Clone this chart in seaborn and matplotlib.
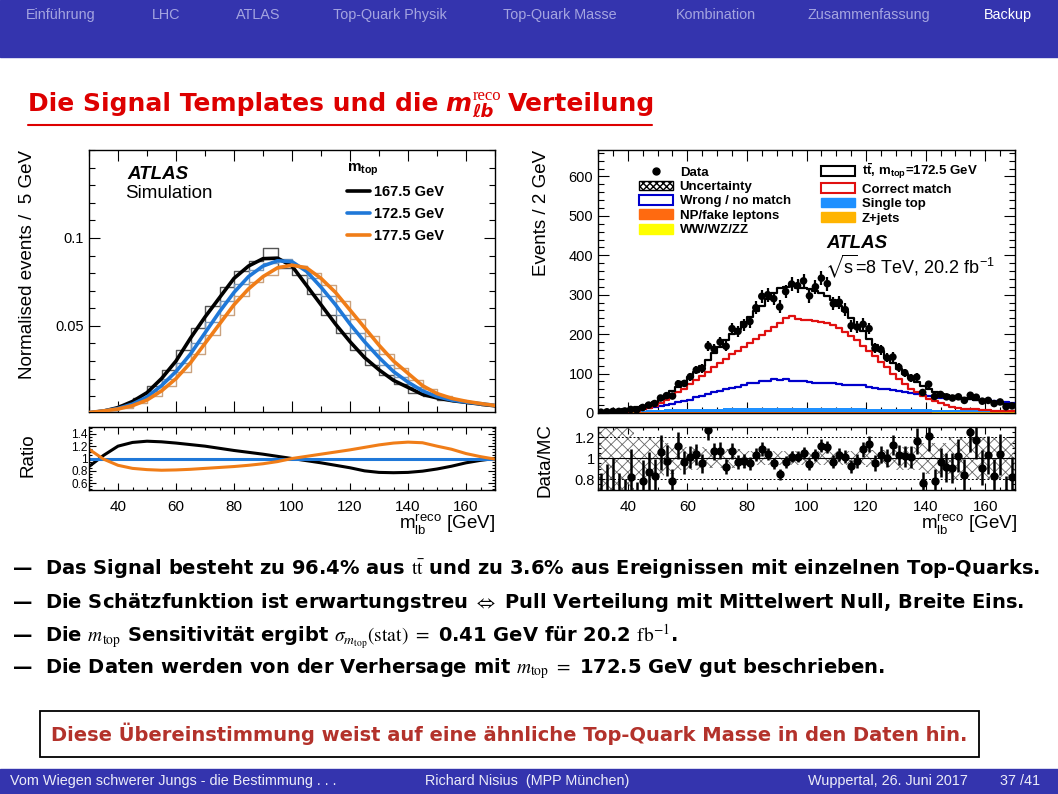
import numpy as np
import pandas as pd
import matplotlib
matplotlib.use("Agg")
import matplotlib.pyplot as plt
from matplotlib.lines import Line2D
from matplotlib.patches import Patch, Rectangle
from matplotlib.ticker import MultipleLocator, FixedLocator
import seaborn as sns

W, H = 1058, 794

# ---------------- left panel: signal templates (5 GeV) ----------------
m_grid = [30, 35, 40, 45, 50, 55, 60, 65, 70, 75, 80, 85, 90, 95, 100,
          105, 110, 115, 120, 125, 130, 135, 140, 145, 150, 155, 160, 165, 170]
curve_1675 = [0.0005, 0.0015, 0.0035, 0.007, 0.012, 0.020, 0.030, 0.043, 0.055, 0.066,
              0.077, 0.084, 0.0882, 0.0885, 0.084, 0.073, 0.062, 0.051, 0.041, 0.032,
              0.025, 0.019, 0.015, 0.011, 0.009, 0.0075, 0.0065, 0.0055, 0.0045]
curve_1725 = [0.0006, 0.0016, 0.003, 0.0055, 0.0095, 0.016, 0.024, 0.034, 0.046, 0.058,
              0.069, 0.078, 0.084, 0.087, 0.0865, 0.081, 0.072, 0.062, 0.051, 0.041,
              0.032, 0.024, 0.018, 0.013, 0.0098, 0.0078, 0.0066, 0.0057, 0.0048]
curve_1775 = [0.0007, 0.0016, 0.0027, 0.0046, 0.0078, 0.013, 0.020, 0.029, 0.040, 0.051,
              0.062, 0.071, 0.078, 0.083, 0.0845, 0.083, 0.077, 0.069, 0.059, 0.049,
              0.039, 0.030, 0.023, 0.016, 0.0115, 0.0088, 0.0071, 0.0058, 0.0047]
ratio_1675 = [0.87, 1.05, 1.20, 1.26, 1.28, 1.27, 1.25, 1.225, 1.20, 1.165, 1.13, 1.10,
              1.07, 1.035, 1.0, 0.965, 0.93, 0.89, 0.85, 0.80, 0.775, 0.77, 0.775, 0.795,
              0.83, 0.875, 0.93, 0.97, 1.0]
ratio_1775 = [1.15, 0.99, 0.89, 0.84, 0.82, 0.81, 0.815, 0.825, 0.84, 0.855, 0.87, 0.89,
              0.915, 0.95, 1.0, 1.035, 1.07, 1.105, 1.14, 1.18, 1.22, 1.25, 1.265, 1.255,
              1.2, 1.15, 1.08, 1.03, 0.99]
hist_1675 = [0.001, 0.002, 0.005, 0.009, 0.016, 0.025, 0.036, 0.049, 0.061, 0.072, 0.081,
             0.087, 0.094, 0.083, 0.079, 0.068, 0.056, 0.046, 0.036, 0.028, 0.022, 0.017,
             0.012, 0.010, 0.008, 0.007, 0.006, 0.005]
hist_1725 = [0.001, 0.002, 0.004, 0.008, 0.013, 0.020, 0.029, 0.040, 0.052, 0.064, 0.074,
             0.082, 0.086, 0.088, 0.084, 0.077, 0.067, 0.056, 0.046, 0.036, 0.028, 0.021,
             0.015, 0.011, 0.009, 0.007, 0.006, 0.005]
hist_1775 = [0.001, 0.002, 0.0035, 0.006, 0.010, 0.016, 0.024, 0.034, 0.045, 0.056, 0.067,
             0.075, 0.079, 0.084, 0.084, 0.080, 0.073, 0.064, 0.054, 0.044, 0.034, 0.026,
             0.019, 0.014, 0.010, 0.008, 0.0065, 0.005]
mass_labels = ["167.5 GeV", "172.5 GeV", "177.5 GeV"]

# ---------------- right panel: data vs prediction (2 GeV) ----------------
mc_total = [4, 5, 6, 7, 9, 11, 14, 18, 23, 29,
            36, 45, 55, 66, 78, 91, 105, 119, 134, 152,
            168, 184, 200, 214, 230, 244, 258, 272, 288, 305,
            318, 320, 322, 318, 318, 314, 310, 305, 296, 286,
            272, 258, 240, 224, 207, 188, 172, 156, 140, 126,
            112, 100, 88, 78, 68, 60, 54, 49, 45, 42,
            40, 38, 36, 34, 33, 31, 29, 27, 24, 22]
correct_match = [1, 1, 2, 2, 3, 4, 6, 9, 13, 19,
                 26, 34, 43, 52, 62, 73, 84, 95, 105, 116,
                 127, 138, 149, 158, 168, 178, 188, 198, 208, 218,
                 228, 242, 246, 238, 235, 235, 234, 232, 228, 222,
                 216, 206, 196, 184, 170, 158, 144, 130, 116, 100,
                 86, 74, 62, 52, 42, 36, 30, 25, 20, 16,
                 13, 11, 10, 9, 8, 7, 6, 5, 4, 4]
wrong_match = [2, 2, 3, 4, 5, 6, 8, 10, 12, 15,
               18, 21, 24, 27, 30, 34, 40, 44, 48, 52,
               57, 60, 63, 67, 72, 75, 77, 80, 82, 86,
               84, 86, 82, 80, 81, 78, 76, 77, 75, 76,
               73, 72, 70, 72, 70, 66, 64, 62, 60, 58,
               55, 53, 51, 48, 45, 42, 41, 39, 38, 38,
               37, 36, 35, 34, 34, 33, 31, 29, 27, 25]
single_top = [2, 2, 3, 3, 3, 4, 4, 4, 5, 5,
              5, 6, 6, 6, 7, 7, 7, 8, 8, 8,
              8, 9, 9, 9, 9, 9, 10, 10, 10, 10,
              10, 10, 10, 10, 10, 10, 10, 10, 9, 9,
              9, 9, 9, 9, 9, 8, 8, 8, 8, 8,
              8, 7, 7, 7, 7, 7, 7, 6, 6, 6,
              6, 6, 6, 6, 5, 5, 5, 5, 5, 5]
z_jets = [1, 1, 1, 1, 1, 1, 1, 1, 2, 2,
          2, 2, 2, 2, 2, 2, 2, 2, 2, 2,
          2, 2, 2, 2, 2, 2, 2, 2, 2, 2,
          2, 2, 2, 2, 2, 2, 2, 2, 2, 2,
          2, 2, 2, 2, 2, 2, 2, 2, 2, 2,
          2, 2, 2, 1, 1, 1, 1, 1, 1, 1,
          1, 1, 1, 1, 1, 1, 1, 1, 1, 1]
np_fake = [0.5, 0.5, 0.5, 0.5, 0.5, 0.5, 1, 1, 1, 1,
           1, 1, 1, 1, 1, 1, 1, 1, 1, 1,
           1, 1, 1, 1, 1, 1, 1, 1, 1, 1,
           1, 1, 1, 1, 1, 1, 1, 1, 1, 1,
           1, 1, 1, 1, 1, 1, 1, 1, 1, 1,
           1, 1, 1, 1, 1, 1, 0.5, 0.5, 0.5, 0.5,
           0.5, 0.5, 0.5, 0.5, 0.5, 0.5, 0.5, 0.5, 0.5, 0.5]
diboson = [0.3, 0.3, 0.3, 0.3, 0.3, 0.3, 0.3, 0.3, 0.3, 0.3,
           0.3, 0.3, 0.3, 0.3, 0.3, 0.3, 0.3, 0.3, 0.3, 0.3,
           0.3, 0.3, 0.3, 0.3, 0.3, 0.3, 0.3, 0.3, 0.3, 0.3,
           0.3, 0.3, 0.3, 0.3, 0.3, 0.3, 0.3, 0.3, 0.3, 0.3,
           0.3, 0.3, 0.3, 0.3, 0.3, 0.3, 0.3, 0.3, 0.3, 0.3,
           0.3, 0.3, 0.3, 0.3, 0.3, 0.3, 0.3, 0.3, 0.3, 0.3,
           0.3, 0.3, 0.3, 0.3, 0.3, 0.3, 0.3, 0.3, 0.3, 0.3]
data_counts = [2, 3, 4, 4, 5, 9, 8, 14, 20, 24,
               38, 44, 43, 74, 75, 92, 109, 113, 170, 162,
               180, 169, 214, 207, 224, 232, 267, 296, 300, 290,
               269, 308, 327, 323, 335, 297, 320, 342, 328, 277,
               281, 262, 221, 218, 225, 214, 164, 161, 140, 142,
               116, 102, 89, 91, 52, 73, 42, 47, 41, 38,
               41, 32, 45, 40, 30, 32, 24, 28, 16, 18]
unc_band = [0.35, 0.35, 0.35, 0.35, 0.35, 0.35, 0.20, 0.20, 0.20, 0.20,
            0.20, 0.15, 0.15, 0.15, 0.11, 0.11, 0.11, 0.11, 0.09, 0.09,
            0.09, 0.09, 0.09, 0.09, 0.09, 0.065, 0.065, 0.065, 0.065, 0.065,
            0.065, 0.065, 0.065, 0.065, 0.065, 0.065, 0.065, 0.065, 0.065, 0.065,
            0.065, 0.065, 0.065, 0.065, 0.065, 0.08, 0.08, 0.08, 0.08, 0.08,
            0.11, 0.11, 0.11, 0.11, 0.15, 0.15, 0.15, 0.15, 0.15, 0.20,
            0.20, 0.20, 0.20, 0.20, 0.20, 0.20, 0.20, 0.20, 0.20, 0.20]

nav_items = ["Einführung", "LHC", "ATLAS", "Top-Quark Physik", "Top-Quark Masse",
             "Kombination", "Zusammenfassung", "Backup"]
nav_x = [26, 152, 236, 333, 503, 676, 808, 984]
bullets = [
    r"—  Das Signal besteht zu 96.4% aus $\mathrm{t\bar{t}}$ und zu 3.6% aus Ereignissen mit einzelnen Top-Quarks.",
    r"—  Die Schätzfunktion ist erwartungstreu $\Leftrightarrow$ Pull Verteilung mit Mittelwert Null, Breite Eins.",
    r"—  Die $m_{\mathrm{top}}$ Sensitivität ergibt $\sigma_{m_{\mathrm{top}}}(\mathrm{stat})\ =$ 0.41 GeV für 20.2 $\mathrm{fb}^{-1}$.",
    r"—  Die Daten werden von der Verhersage mit $m_{\mathrm{top}}\ =$ 172.5 GeV gut beschrieben.",
]
bullet_y = [569, 603, 637, 669]

# ---------------- style ----------------
sns.set_theme(style="ticks")
plt.rcParams["font.family"] = ["Liberation Sans", "DejaVu Sans"]
plt.rcParams["mathtext.fontset"] = "stix"
plt.rcParams["axes.linewidth"] = 1.0
plt.rcParams["axes.edgecolor"] = "black"
plt.rcParams["text.color"] = "black"
plt.rcParams["axes.labelcolor"] = "black"
plt.rcParams["xtick.color"] = "black"
plt.rcParams["ytick.color"] = "black"

SLIDE_FONT = ["DejaVu Sans"]
BLACK, BLUE, ORANGE = "#000000", "#1f78d8", "#f07d18"
RED = "#dd0000"
NAVY = "#3434ae"

fig = plt.figure(figsize=(W / 100, H / 100), dpi=100)
fig.patch.set_facecolor("white")


def fx(x):
    return x / W


def fy(y):
    return 1 - y / H


def rect(x0, y0, x1, y1):
    return [fx(x0), fy(y1), (x1 - x0) / W, (y1 - y0) / H]


def root_style(ax, major=8, minor=4):
    ax.tick_params(which="both", direction="in", top=True, right=True,
                   colors="black", width=0.8, labelcolor="black")
    ax.tick_params(which="major", length=major)
    ax.tick_params(which="minor", length=minor)
    for s in ax.spines.values():
        s.set_visible(True)
        s.set_color("black")
        s.set_linewidth(1.0)
    ax.set_xlabel("")
    ax.set_ylabel("")


def step_hist(ax, centres, edges, vals, col, lw, z=3):
    df = pd.DataFrame({"m": centres, "w": vals})
    sns.histplot(data=df, x="m", weights="w", bins=[float(e) for e in edges],
                 element="step", fill=False, color=col, lw=lw, ax=ax, zorder=z)


# slide frame
fig.add_artist(Rectangle((0, fy(57)), 1, 57 / H, transform=fig.transFigure,
                         color=NAVY, zorder=0))
fig.add_artist(Rectangle((0, 0), 1, 25 / H, transform=fig.transFigure,
                         color=NAVY, zorder=0))
for lab, x in zip(nav_items, nav_x):
    fig.text(fx(x), fy(15), lab, fontsize=10.4, va="center",
             color="white" if lab == "Backup" else "#a4a4e0")

foot = dict(fontsize=10.4, va="center", color="#ececf8")
fig.text(fx(10), fy(781), "Vom Wiegen schwerer Jungs - die Bestimmung . . .", **foot)
fig.text(fx(425), fy(781), "Richard Nisius  (MPP München)", **foot)
fig.text(fx(808), fy(781), "Wuppertal, 26. Juni 2017", **foot)
fig.text(fx(1000), fy(781), "37 /41", **foot)

# title made of pieces
renderer = fig.canvas.get_renderer()
base = 111
t1 = fig.text(fx(28), fy(base), "Die Signal Templates und die", fontsize=18,
              weight="bold", color=RED, va="baseline", family=SLIDE_FONT)
x = t1.get_window_extent(renderer).x1 + 7
tm = fig.text(x / W, fy(base), "m", fontsize=18, weight="bold", style="italic",
              color=RED, va="baseline", family=SLIDE_FONT)
x = tm.get_window_extent(renderer).x1 + 1
ts = fig.text(x / W, fy(base + 6), "ℓb", fontsize=13, weight="bold", style="italic",
              color=RED, va="baseline", family=SLIDE_FONT)
tp = fig.text(x / W, fy(base - 11), "reco", fontsize=12, color=RED, va="baseline",
              family=["Liberation Serif", "DejaVu Serif"])
x = max(ts.get_window_extent(renderer).x1, tp.get_window_extent(renderer).x1) + 7
fig.text(x / W, fy(base), "Verteilung", fontsize=18, weight="bold", color=RED,
         va="baseline", family=SLIDE_FONT)
fig.add_artist(Line2D([fx(28), fx(652)], [fy(125), fy(125)], transform=fig.transFigure,
                      color=RED, lw=1.5))

# ---------------- left: templates ----------------
axL = fig.add_axes(rect(89, 150, 495, 412))
axLr = fig.add_axes(rect(89, 427, 495, 490))

edges5 = np.arange(30, 171, 5)
centres5 = edges5[:-1] + 2.5
for vals, col in [(hist_1675, "#555555"), (hist_1725, "#7f9ab8"), (hist_1775, "#caa27e")]:
    step_hist(axL, centres5, edges5, vals, col, 1.0, z=2)

df_curves = pd.DataFrame({
    "m": m_grid * 3,
    "val": curve_1675 + curve_1725 + curve_1775,
    "mass": [mass_labels[0]] * len(m_grid) + [mass_labels[1]] * len(m_grid)
            + [mass_labels[2]] * len(m_grid),
})
sns.lineplot(data=df_curves, x="m", y="val", hue="mass", hue_order=mass_labels,
             palette=[BLACK, BLUE, ORANGE], lw=2.6, legend=False, ax=axL, zorder=4)

axL.set_xlim(30, 170)
axL.set_ylim(0.001, 0.15)
axL.xaxis.set_major_locator(MultipleLocator(20))
axL.xaxis.set_minor_locator(MultipleLocator(10))
axL.yaxis.set_major_locator(FixedLocator([0.05, 0.1]))
axL.yaxis.set_minor_locator(MultipleLocator(0.01))
axL.set_yticklabels(["0.05", "0.1"])
axL.tick_params(labelbottom=False, labelsize=10.5)
root_style(axL)

axL.text(0.094, 0.905, "ATLAS", transform=axL.transAxes, fontsize=13.5,
         weight="bold", style="italic", va="center")
axL.text(0.09, 0.835, "Simulation", transform=axL.transAxes, fontsize=13.5, va="center")
handles = [Line2D([], [], color=c, lw=2.6) for c in (BLACK, BLUE, ORANGE)]
legL = axL.legend(handles, mass_labels, title=r"m$_{\mathregular{top}}$",
                  loc="upper left", bbox_to_anchor=(0.62, 0.985), frameon=False,
                  prop={"weight": "bold", "size": 10.5},
                  title_fontproperties={"weight": "bold", "size": 11},
                  handlelength=1.6, handletextpad=0.3, labelspacing=0.55,
                  alignment="left", borderaxespad=0)

sns.lineplot(x=m_grid, y=ratio_1675, color=BLACK, lw=2.2, ax=axLr)
axLr.axhline(1.0, color=BLUE, lw=2.2)
sns.lineplot(x=m_grid, y=ratio_1775, color=ORANGE, lw=2.2, ax=axLr)
axLr.set_xlim(30, 170)
axLr.set_ylim(0.49, 1.51)
axLr.xaxis.set_major_locator(MultipleLocator(20))
axLr.xaxis.set_minor_locator(MultipleLocator(5))
axLr.yaxis.set_major_locator(FixedLocator([0.6, 0.8, 1.0, 1.2, 1.4]))
axLr.yaxis.set_minor_locator(MultipleLocator(0.05))
axLr.set_yticklabels(["0.6", "0.8", "1", "1.2", "1.4"])
root_style(axLr, major=5, minor=2.5)
axLr.tick_params(axis="x", labelsize=11, pad=7)
axLr.tick_params(axis="y", labelsize=8.5, pad=1)

# ---------------- right: data / MC ----------------
axR = fig.add_axes(rect(598, 150, 1015, 413))
axRr = fig.add_axes(rect(598, 427, 1015, 490))

edges2 = np.arange(30, 171, 2)
centres2 = edges2[:-1] + 1
stack = [(diboson, "#ffff00"), (np_fake, "#ff6a10"), (z_jets, "#ffb400"),
         (single_top, "#1e90ff")]
bottom = np.zeros(len(centres2))
for vals, col in stack:
    top = bottom + np.array(vals)
    axR.stairs(top, edges2, baseline=bottom, fill=True, color=col, lw=0, zorder=1)
    bottom = top

for vals, col in [(wrong_match, "#0000cc"), (correct_match, "#e01010"), (mc_total, BLACK)]:
    step_hist(axR, centres2, edges2, vals, col, 1.6)

data = np.array(data_counts, dtype=float)
mc = np.array(mc_total, dtype=float)
axR.errorbar(centres2, data, yerr=np.sqrt(data), fmt="none", color="black",
             elinewidth=1.6, capsize=0, zorder=5)
sns.scatterplot(x=centres2, y=data, color="black", s=30, edgecolor="none", ax=axR, zorder=6)

axR.set_xlim(30, 170)
axR.set_ylim(0, 667)
axR.xaxis.set_major_locator(MultipleLocator(20))
axR.xaxis.set_minor_locator(MultipleLocator(5))
axR.yaxis.set_major_locator(MultipleLocator(100))
axR.yaxis.set_minor_locator(MultipleLocator(20))
axR.tick_params(labelbottom=False, labelsize=10.5)
root_style(axR)

axR.text(0.548, 0.646, "ATLAS", transform=axR.transAxes, fontsize=13.5,
         weight="bold", style="italic", va="center")
axR.text(0.545, 0.556, r"$\mathregular{\sqrt{s}}$=8 TeV, 20.2 fb$^{\mathregular{-1}}$",
         transform=axR.transAxes, fontsize=13, va="center")

legR_handles = [
    Line2D([], [], marker="o", color="black", ls="none", ms=5),
    Patch(facecolor="white", edgecolor="black", hatch="xxxxx", lw=1),
    Patch(facecolor="white", edgecolor="#0000cc", lw=1.5),
    Patch(facecolor="#ff6a10", edgecolor="#ff6a10"),
    Patch(facecolor="#ffff00", edgecolor="#ffff00"),
    Patch(facecolor="white", edgecolor="black", lw=1.5),
    Patch(facecolor="white", edgecolor="#e01010", lw=1.5),
    Patch(facecolor="#1e90ff", edgecolor="#1e90ff"),
    Patch(facecolor="#ffb400", edgecolor="#ffb400"),
]
legR_labels = ["Data", "Uncertainty", "Wrong / no match", "NP/fake leptons", "WW/WZ/ZZ",
               r"t$\mathregular{\bar{t}}$, m$_{\mathregular{top}}$=172.5 GeV",
               "Correct match", "Single top", "Z+jets"]
axR.legend(legR_handles, legR_labels, ncol=2, loc="upper left",
           bbox_to_anchor=(0.085, 0.975), frameon=False,
           prop={"weight": "bold", "size": 9.5}, handlelength=2.6, handleheight=0.75,
           handletextpad=0.5, labelspacing=0.15, columnspacing=2.3, borderaxespad=0)

ratio = data / mc
ratio_err = np.sqrt(data) / mc
band = np.array(unc_band)
plt.rcParams["hatch.linewidth"] = 0.6
axRr.fill_between(edges2, np.append(1 - band, 1 - band[-1]), np.append(1 + band, 1 + band[-1]),
                  step="post", facecolor="none", edgecolor="#666666", hatch="xxx",
                  lw=0, zorder=1)
axRr.axhline(1.0, color="black", lw=0.8, zorder=2)
for yv in (0.8, 1.2):
    axRr.axhline(yv, color="black", lw=0.7, ls=(0, (2, 2)), zorder=2)
axRr.errorbar(centres2, ratio, yerr=ratio_err, fmt="o", ms=5, color="black",
              elinewidth=1.8, capsize=0, zorder=5)
axRr.set_xlim(30, 170)
axRr.set_ylim(0.695, 1.3)
axRr.xaxis.set_major_locator(MultipleLocator(20))
axRr.xaxis.set_minor_locator(MultipleLocator(5))
axRr.yaxis.set_major_locator(FixedLocator([0.8, 1.0, 1.2]))
axRr.yaxis.set_minor_locator(MultipleLocator(0.05))
axRr.set_yticklabels(["0.8", "1", "1.2"])
root_style(axRr, major=5, minor=2.5)
axRr.tick_params(axis="x", labelsize=11, pad=7)
axRr.tick_params(axis="y", labelsize=10.5, pad=2)

# axis titles
xlab = r"m$^{\mathregular{reco}}_{\mathregular{lb}}$ [GeV]"
fig.text(fx(495), fy(525), xlab, ha="right", va="center", fontsize=13.5)
fig.text(fx(1017), fy(525), xlab, ha="right", va="center", fontsize=13.5)
fig.text(fx(28), fy(150), "Normalised events /  5 GeV", rotation=90, ha="center",
         va="top", fontsize=13.5)
fig.text(fx(28), fy(455), "Ratio", rotation=90, ha="center", va="center", fontsize=13.5)
fig.text(fx(541), fy(150), "Events / 2 GeV", rotation=90, ha="center", va="top",
         fontsize=13.5)
fig.text(fx(545), fy(460), "Data/MC", rotation=90, ha="center", va="center",
         fontsize=13.5)

# bullet text
for s, y in zip(bullets, bullet_y):
    fig.text(fx(12), fy(y), s, fontsize=14, weight="bold", va="center",
             family=SLIDE_FONT, color="black")

fig.add_artist(Rectangle((fx(40), fy(757)), (979 - 40) / W, 46 / H,
                         transform=fig.transFigure, fill=False, edgecolor="black", lw=1.3))
fig.text(fx(509), fy(734),
         "Diese Übereinstimmung weist auf eine ähnliche Top-Quark Masse in den Daten hin.",
         ha="center", va="center", fontsize=14, weight="bold", color="#b3322b",
         family=SLIDE_FONT)

fig.savefig("out.png", dpi=100)
